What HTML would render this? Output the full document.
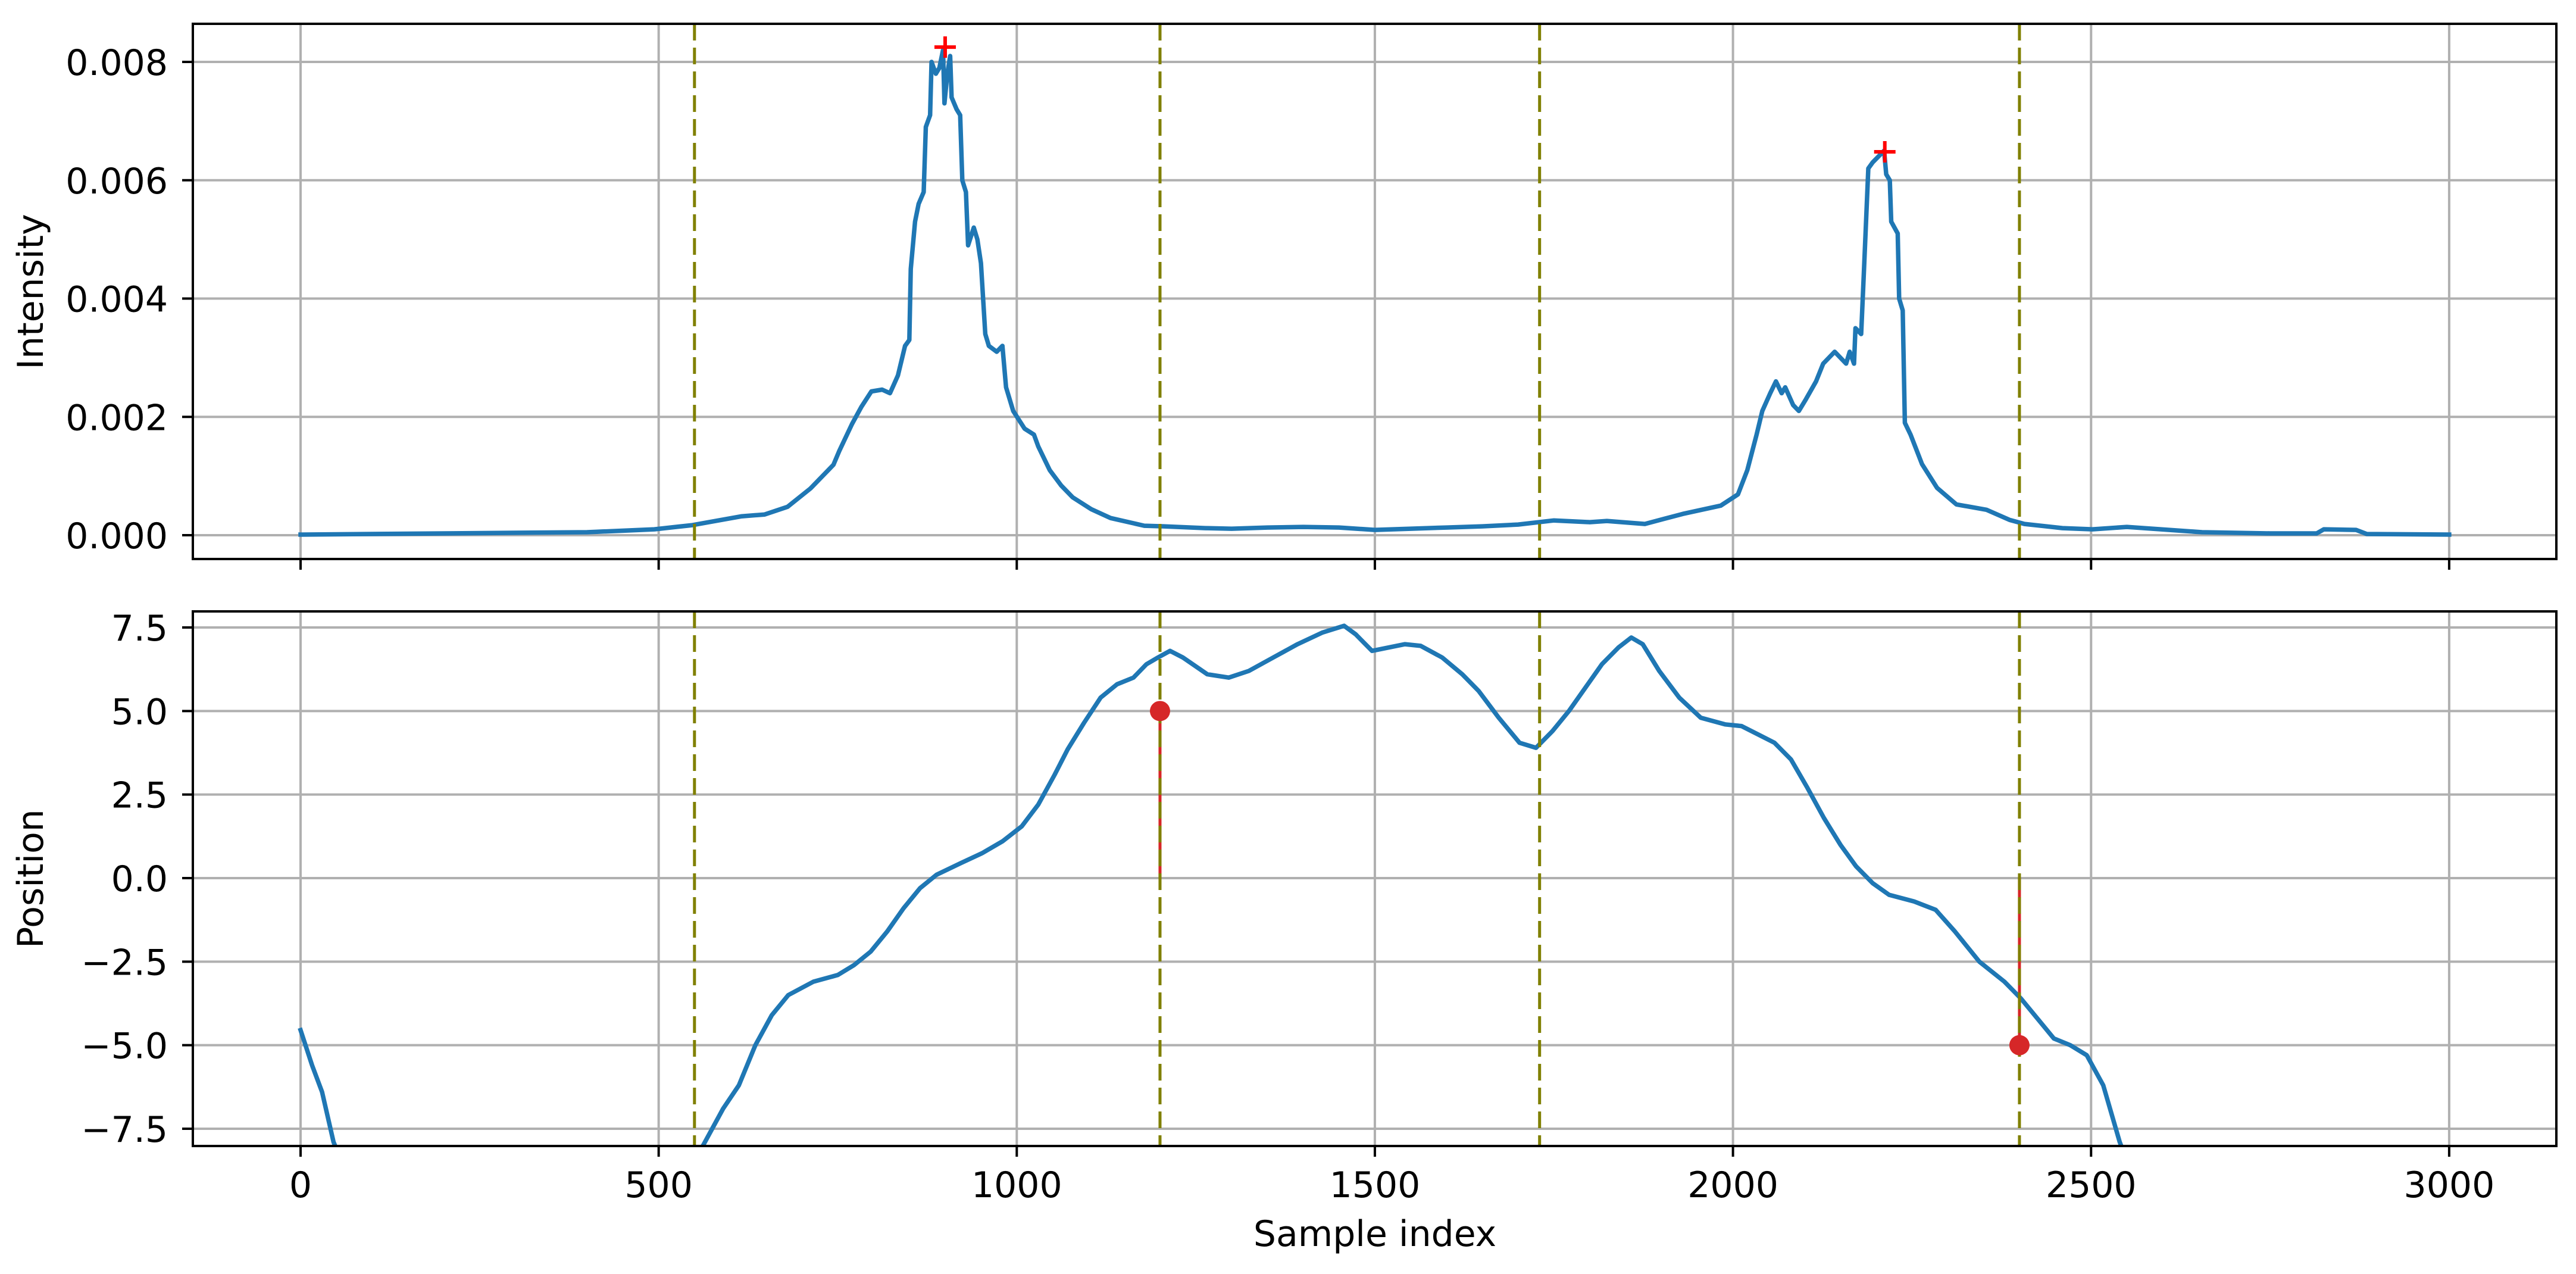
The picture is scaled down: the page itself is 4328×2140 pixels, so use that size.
<!DOCTYPE html>
<html><head><meta charset="utf-8"><style>
html,body{margin:0;padding:0;background:#fff}
svg{display:block}
text{font-family:"DejaVu Sans","Liberation Sans",sans-serif;font-size:60px;fill:#000}
</style></head><body>
<svg id="fig" width="4328" height="2140" viewBox="0 0 4328 2140" xmlns="http://www.w3.org/2000/svg">
<defs>
<clipPath id="clipTop"><rect x="324" y="40" width="3971" height="899"/></clipPath>
<clipPath id="clipBot"><rect x="324" y="1027" width="3971" height="898"/></clipPath>
</defs>
<g id="top"></g>
<g id="bot"></g>
<text x="2310" y="2093" text-anchor="middle">Sample index</text>
<text transform="translate(72,490) rotate(-90)" text-anchor="middle">Intensity</text>
<text transform="translate(72,1476) rotate(-90)" text-anchor="middle">Position</text>
</svg>
<script>
const xTicks=[0,500,1000,1500,2000,2500,3000];
const xTickLabels=["0","500","1000","1500","2000","2500","3000"];
const topTicks=[0,0.002,0.004,0.006,0.008];
const topTickLabels=["0.000","0.002","0.004","0.006","0.008"];
const botTicks=[-7.5,-5,-2.5,0,2.5,5,7.5];
const botTickLabels=["\u22127.5","\u22125.0","\u22122.5","0.0","2.5","5.0","7.5"];
const boundaries=[550,1200,1730,2400];
const intensityX=[0,200,400,494,547,616,648,680,712,744,752,770,783,797,812,823,834,844,850,852,858,863,870,873,879,881,887,892,897,899,903,907,909,916,921,924,929,932,940,945,950,956,961,972,980,985,995,1011,1024,1030,1046,1062,1078,1104,1131,1178,1205,1263,1300,1350,1400,1450,1500,1550,1600,1650,1700,1750,1800,1824,1877,1930,1983,2007,2020,2033,2041,2052,2060,2068,2073,2084,2092,2102,2116,2126,2142,2158,2163,2169,2171,2179,2183,2189,2195,2203,2211,2214,2219,2221,2230,2232,2237,2240,2248,2264,2285,2312,2354,2386,2407,2460,2502,2550,2655,2750,2815,2825,2870,2885,3000];
const intensityY=[0.00001,0.00003,0.00005,0.0001,0.00017,0.00032,0.00035,0.00048,0.00079,0.00119,0.00142,0.00188,0.00217,0.00243,0.00246,0.0024,0.0027,0.0032,0.0033,0.0045,0.0053,0.0056,0.0058,0.0069,0.0071,0.0080,0.0078,0.0079,0.0082,0.0073,0.0078,0.0081,0.0074,0.0072,0.0071,0.0060,0.0058,0.0049,0.0052,0.0050,0.0046,0.0034,0.0032,0.0031,0.0032,0.0025,0.0021,0.0018,0.0017,0.0015,0.0011,0.00084,0.00064,0.00044,0.00029,0.00016,0.00015,0.00012,0.00011,0.00013,0.00014,0.00013,0.00009,0.00011,0.00013,0.00015,0.00018,0.00025,0.00022,0.00024,0.00019,0.00036,0.0005,0.00069,0.0011,0.0017,0.0021,0.0024,0.0026,0.0024,0.0025,0.0022,0.0021,0.0023,0.0026,0.0029,0.0031,0.0029,0.0031,0.0029,0.0035,0.0034,0.0045,0.0062,0.0063,0.0064,0.0065,0.0061,0.0060,0.0053,0.0051,0.0040,0.0038,0.0019,0.0017,0.0012,0.0008,0.00052,0.00043,0.00026,0.00019,0.00012,0.0001,0.00014,0.00005,0.00003,0.00003,0.0001,0.00009,0.00002,0.00001];
const peakX=[900,2212];
const peakY=[0.00825,0.00648];
const positionX=[0,16,30,46,60,150,300,450,530,562,590,612,635,658,681,716,750,773,796,819,842,865,888,922,952,980,1007,1030,1053,1071,1094,1117,1140,1163,1181,1197,1214,1232,1266,1296,1324,1358,1392,1427,1457,1473,1496,1519,1542,1564,1594,1622,1645,1673,1702,1725,1748,1771,1794,1817,1840,1858,1874,1897,1925,1955,1989,2012,2035,2058,2081,2104,2127,2150,2172,2195,2218,2253,2283,2310,2344,2379,2402,2425,2448,2471,2494,2517,2540,2560,2600];
const positionY=[-4.55,-5.6,-6.4,-7.9,-8.6,-10,-11,-10,-9,-8.0,-6.9,-6.2,-5.0,-4.1,-3.5,-3.1,-2.9,-2.6,-2.2,-1.6,-0.9,-0.3,0.1,0.45,0.75,1.1,1.55,2.2,3.1,3.85,4.65,5.4,5.8,6.0,6.4,6.6,6.8,6.6,6.1,6.0,6.2,6.6,7.0,7.35,7.55,7.3,6.8,6.9,7.0,6.95,6.6,6.1,5.6,4.8,4.05,3.9,4.4,5.0,5.7,6.4,6.9,7.2,7.0,6.2,5.4,4.8,4.6,4.55,4.3,4.05,3.55,2.7,1.8,1.0,0.35,-0.15,-0.5,-0.7,-0.95,-1.6,-2.5,-3.1,-3.6,-4.2,-4.8,-5.0,-5.3,-6.2,-7.9,-9,-11];
const stemX=[1200,2400];
const stemY=[5,-5];

const NS="http://www.w3.org/2000/svg";
const sx=v=>505+v*1.2033;
const syT=v=>899-v*99375;
const syB=v=>1475-v*56.13;
function mk(parent,tag,attrs){const e=document.createElementNS(NS,tag);for(const k in attrs)e.setAttribute(k,attrs[k]);parent.appendChild(e);return e;}

function panel(g,top,bot,yTicks,yLabels,sy,clip,showXLabels,prefix){
  xTicks.forEach((t,i)=>{
    const l=mk(g,'line',{x1:sx(t),x2:sx(t),y1:top,y2:bot,stroke:'#b0b0b0','stroke-width':4});
    
    
  });
  yTicks.forEach((t,i)=>{
    const l=mk(g,'line',{x1:324,x2:4295,y1:sy(t),y2:sy(t),stroke:'#b0b0b0','stroke-width':4});
    
    
    const tk=mk(g,'line',{x1:306,x2:324,y1:sy(t),y2:sy(t),stroke:'#000','stroke-width':4});
    
    
    const tx=mk(g,'text',{x:282,y:sy(t)+22,'text-anchor':'end'});
    tx.textContent=yLabels[i];
    
    
  });
  xTicks.forEach((t,i)=>{
    const tk=mk(g,'line',{x1:sx(t),x2:sx(t),y1:bot,y2:bot+18,stroke:'#000','stroke-width':4});
    
    
    if(showXLabels){
      const tx=mk(g,'text',{x:sx(t),y:bot+86,'text-anchor':'middle'});
      tx.textContent=xTickLabels[i];
      
      
    }
  });
  const cg=mk(g,'g',{'clip-path':'url(#'+clip+')'});
  return cg;
}
function path(cg,xs,ys,sy,name){
  let d='';xs.forEach((x,i)=>{d+=(i?'L':'M')+sx(x).toFixed(1)+','+sy(ys[i]).toFixed(1);});
  const p=mk(cg,'path',{d:d,fill:'none',stroke:'#1f77b4','stroke-width':7.5,'stroke-linejoin':'round','stroke-linecap':'square'});
  
  
}
function vlines(cg,top,bot,prefix){
  boundaries.forEach(b=>{
    const l=mk(cg,'line',{x1:sx(b),x2:sx(b),y1:top,y2:bot,stroke:'#808000','stroke-width':5,'stroke-dasharray':'28 12'});
    
    
  });
}
function frame(g,top,bot,prefix){
  const r=mk(g,'rect',{x:324,y:top,width:3971,height:bot-top,fill:'none',stroke:'#000','stroke-width':4});
  
  
}

const gT=document.getElementById('top');
const cT=panel(gT,40,939,topTicks,topTickLabels,syT,'clipTop',false,'intensity');
path(cT,intensityX,intensityY,syT,'intensity-line');
vlines(cT,40,939,'intensity');
peakX.forEach((x,i)=>{
  const px=sx(x),py=syT(peakY[i]);
  const m=mk(cT,'path',{d:`M${px-18},${py}H${px+18}M${px},${py-18}V${py+18}`,stroke:'#ff0000','stroke-width':6,fill:'none'});
  
  
});
frame(gT,40,939,'intensity');

const gB=document.getElementById('bot');
const cB=panel(gB,1027,1925,botTicks,botTickLabels,syB,'clipBot',true,'position');
path(cB,positionX,positionY,syB,'position-line');
stemX.forEach((x,i)=>{
  const s=mk(cB,'line',{x1:sx(x),x2:sx(x),y1:syB(0),y2:syB(stemY[i]),stroke:'#d62728','stroke-width':5});
  
  
});
vlines(cB,1027,1925,'position');
stemX.forEach((x,i)=>{
  const c=mk(cB,'circle',{cx:sx(x),cy:syB(stemY[i]),r:17,fill:'#d62728'});
  
  
});
frame(gB,1027,1925,'position');
</script>
</body></html>
